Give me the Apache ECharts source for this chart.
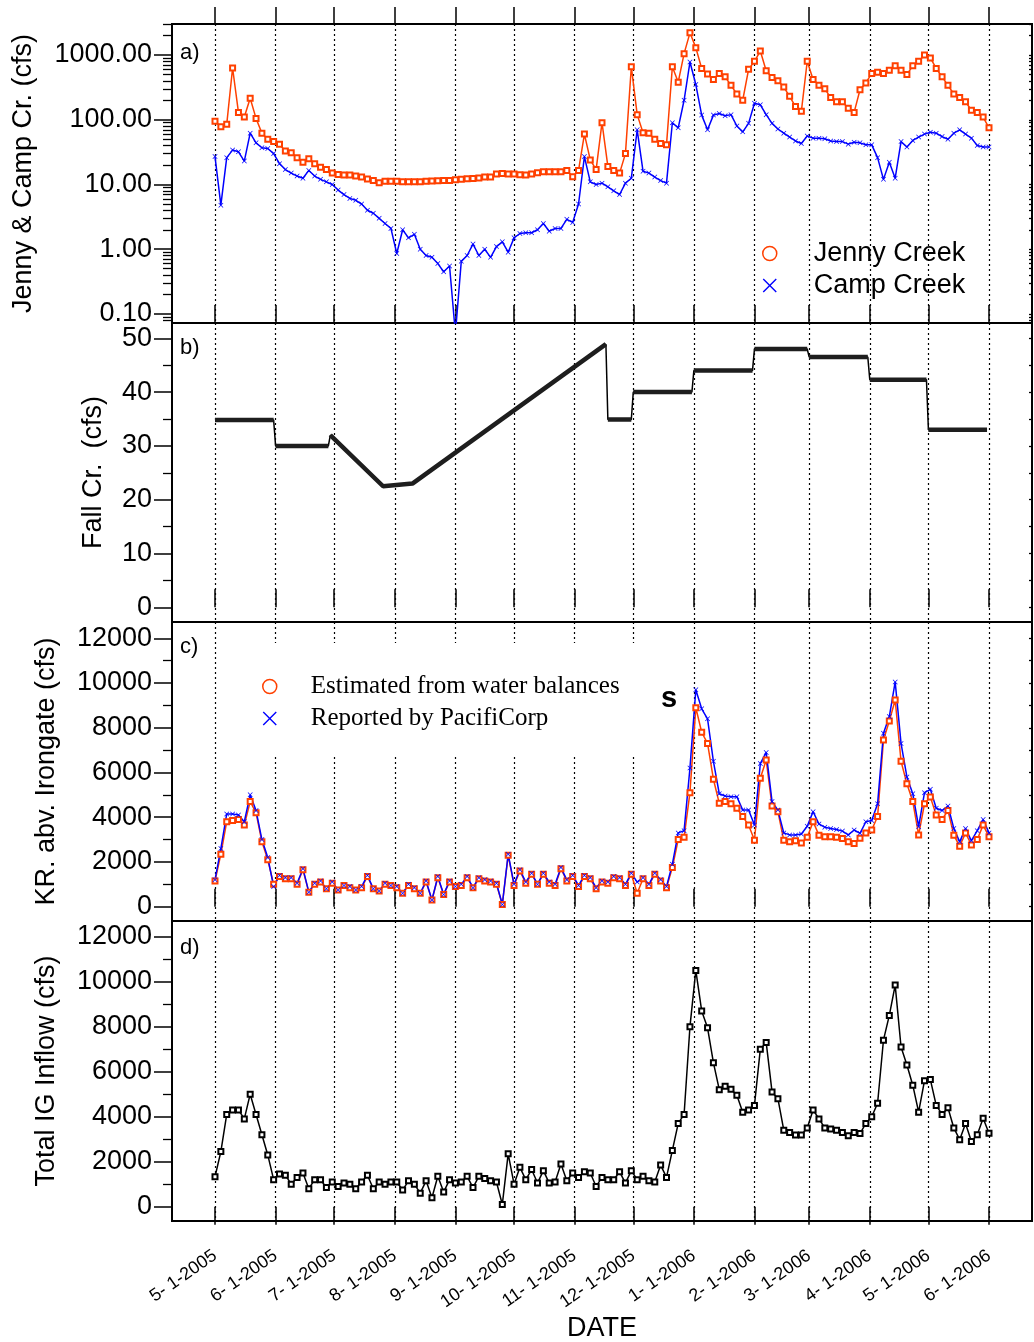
<!DOCTYPE html>
<html>
<head>
<meta charset="utf-8">
<script src="https://cdn.jsdelivr.net/npm/echarts/dist/echarts.min.js"></script>
<style>html,body{margin:0;padding:0;background:#fff}#chart{width:1034px;height:1342px}</style>
</head>
<body>
<div id="chart"></div>
<script>
// ---------------- data ----------------
const dates = [
'2005-05-01','2005-05-04','2005-05-07','2005-05-10','2005-05-13','2005-05-16','2005-05-19','2005-05-22','2005-05-25','2005-05-28',
'2005-05-31','2005-06-03','2005-06-06','2005-06-09','2005-06-12','2005-06-15','2005-06-18','2005-06-21','2005-06-24','2005-06-27',
'2005-06-30','2005-07-03','2005-07-06','2005-07-09','2005-07-12','2005-07-15','2005-07-18','2005-07-21','2005-07-24','2005-07-27',
'2005-07-30','2005-08-02','2005-08-05','2005-08-08','2005-08-11','2005-08-14','2005-08-17','2005-08-20','2005-08-23','2005-08-26',
'2005-08-29','2005-09-01','2005-09-04','2005-09-07','2005-09-10','2005-09-13','2005-09-16','2005-09-19','2005-09-22','2005-09-25',
'2005-09-28','2005-10-01','2005-10-04','2005-10-07','2005-10-10','2005-10-13','2005-10-16','2005-10-19','2005-10-22','2005-10-25',
'2005-10-28','2005-10-31','2005-11-03','2005-11-06','2005-11-09','2005-11-12','2005-11-15','2005-11-18','2005-11-21','2005-11-24',
'2005-11-27','2005-11-30','2005-12-03','2005-12-06','2005-12-09','2005-12-12','2005-12-15','2005-12-18','2005-12-21','2005-12-24',
'2005-12-27','2005-12-30','2006-01-02','2006-01-05','2006-01-08','2006-01-11','2006-01-14','2006-01-17','2006-01-20','2006-01-23',
'2006-01-26','2006-01-29','2006-02-01','2006-02-04','2006-02-07','2006-02-10','2006-02-13','2006-02-16','2006-02-19','2006-02-22',
'2006-02-25','2006-02-28','2006-03-03','2006-03-06','2006-03-09','2006-03-12','2006-03-15','2006-03-18','2006-03-21','2006-03-24',
'2006-03-27','2006-03-30','2006-04-02','2006-04-05','2006-04-08','2006-04-11','2006-04-14','2006-04-17','2006-04-20','2006-04-23',
'2006-04-26','2006-04-29','2006-05-02','2006-05-05','2006-05-08','2006-05-11','2006-05-14','2006-05-17','2006-05-20','2006-05-23',
'2006-05-26','2006-05-29','2006-06-01'];

const jennyCreek = [
95,78,85,630,130,110,215,105,62,50,
46,42,33,31,26,22,25,21,18.5,17,
15,14.3,14,14,13.5,13,12.2,11.5,10.6,11.2,
11.2,11.2,11.0,11.0,11.0,11.0,11.2,11.3,11.4,11.5,
11.5,11.8,12.0,12.3,12.4,12.6,13.0,13.0,14.5,14.8,
14.5,14.5,14.2,14.0,14.5,15.2,15.7,15.7,15.7,15.7,
16.5,13.2,16.5,60,24,17,90,19,16.5,15,
30,660,120,63,62,50,43,41,660,380,
1050,2200,1300,620,510,420,520,460,340,250,
200,600,800,1150,570,450,400,320,230,160,
135,800,420,340,300,220,190,190,150,130,
290,370,520,540,520,580,680,580,500,680,
800,1000,900,620,460,340,250,220,190,140,
130,110,75];

const campCreek = [
27,4.8,26,34,32,23,62,44,37,36,
30,21,17,15,13.5,12.5,16.5,13.5,12,11,
10,8.2,7,6.1,5.7,5.0,4.0,3.6,3.0,2.5,
2.1,0.86,2.0,1.5,1.7,1.0,0.8,0.75,0.6,0.45,
0.55,0.05,0.65,0.8,1.2,0.8,1.0,0.75,1.1,1.3,
0.9,1.5,1.75,1.8,1.8,2.0,2.5,1.9,2.1,2.1,
2.9,2.6,5.0,27,11,10,10.5,9.2,8,7,
10.5,12.5,70,16,15,13,11.5,10.5,90,75,
200,780,350,118,70,118,125,115,120,80,
65,88,180,170,120,88,72,62,54,47,
43,56,52,52,51,47,46,46,42,45,
44,41,41,26,12,22,12.5,46,38,48,
54,60,64,62,55,50,62,70,60,52,
40,38,38];

const fallDates = ['2005-05-01','2005-05-31','2005-06-01','2005-06-28','2005-06-29','2005-07-26','2005-08-10','2005-11-17',
'2005-11-18','2005-11-30','2005-12-01','2005-12-31','2006-01-01','2006-01-31','2006-02-01','2006-02-28',
'2006-03-01','2006-03-31','2006-04-01','2006-04-30','2006-05-01','2006-05-31'];
const fallCreek = [34.8,34.8,30.0,30.0,32.0,22.5,23.0,48.9,34.9,34.9,40.0,40.0,44.0,44.0,48.0,48.0,46.5,46.5,42.3,42.3,33.0,33.0];

const estimated = [
1150,2350,3800,3850,3900,3650,4700,4200,2900,2100,
1000,1350,1250,1250,1000,1650,650,1000,1100,800,
1050,750,950,850,750,850,1350,800,700,1000,
950,850,600,950,800,600,1100,300,1300,550,
1100,900,950,1300,850,1250,1150,1100,1000,100,
2300,950,1600,1050,1450,1000,1450,1050,950,1700,
1150,1350,900,1350,1250,800,1100,1050,1300,1250,
950,1450,600,1250,950,1450,1150,850,1750,3000,
3100,5100,8900,7800,7300,5700,4620,4700,4600,4400,
4030,3650,2970,5740,6560,4500,4250,2970,2900,2950,
2850,3100,3800,3200,3130,3130,3100,3050,2900,2830,
3060,3300,3430,4030,7450,8300,9240,6500,5500,4700,
3210,4600,4900,4100,3900,4300,3200,2700,3300,2760,
3000,3650,3130];

const reported = [
1200,2600,4150,4150,4100,3800,5000,4300,3000,2200,
900,1400,1300,1300,1050,1700,650,1050,1150,800,
1100,750,950,900,750,900,1400,800,700,1050,
950,900,600,1000,850,600,1150,300,1350,550,
1150,900,1000,1350,850,1300,1200,1150,1050,100,
2350,1000,1650,1100,1500,1000,1500,1100,1000,1750,
1200,1400,950,1400,1300,850,1150,1100,1350,1300,
1000,1500,1100,1300,1000,1500,1200,900,1900,3300,
3400,6200,9700,8850,8400,6500,5050,4950,4920,4920,
4320,4320,3650,6400,6900,4700,4320,3300,3210,3210,
3250,3600,4250,3700,3550,3500,3450,3380,3210,3430,
3280,3800,3850,4600,7750,8500,10050,7300,5800,5050,
3580,5100,5250,4400,4300,4500,3500,2900,3500,2950,
3400,3900,3300];

const totalInflow = [
1330,2450,4100,4300,4300,3900,5000,4100,3200,2300,
1200,1450,1400,1000,1300,1500,800,1200,1200,850,
1100,900,1050,1000,800,1100,1400,800,1100,1000,
1100,1100,740,1150,1000,600,1150,400,1350,650,
1200,1050,1100,1350,850,1350,1250,1150,1100,100,
2350,1000,1750,1200,1650,1050,1600,1050,1100,1900,
1150,1500,1300,1550,1500,900,1300,1200,1200,1550,
1050,1600,1200,1350,1150,1100,1850,1300,2500,3700,
4100,8000,10500,8700,7950,6400,5200,5350,5220,4950,
4200,4300,4500,7000,7300,5100,4800,3400,3300,3190,
3190,3500,4300,3900,3500,3450,3400,3300,3150,3300,
3250,3700,4000,4600,7400,8500,9850,7100,6300,5400,
4200,5600,5650,4500,4100,4400,3500,2980,3700,2900,
3200,3930,3260];

const monthTicks = ['2005-05-01','2005-06-01','2005-07-01','2005-08-01','2005-09-01','2005-10-01','2005-11-01',
'2005-12-01','2006-01-01','2006-02-01','2006-03-01','2006-04-01','2006-05-01','2006-06-01'];
const logMajor = [0.1, 1, 10, 100, 1000];
const logMinor = [0.08,0.09,0.2,0.3,0.4,0.5,0.6,0.7,0.8,0.9,2,3,4,5,6,7,8,9,20,30,40,50,60,70,80,90,
200,300,400,500,600,700,800,900,2000,3000];
const fallMajor = [0,10,20,30,40,50];
const fallMinor = [5,15,25,35,45];
const flowMajor = [0,2000,4000,6000,8000,10000,12000];
const flowMinor = [1000,3000,5000,7000,9000,11000];

// ---------------- helpers ----------------
function toTime(s){ const p = s.split('-').map(Number); return new Date(p[0], p[1]-1, p[2]).getTime(); }
const SANS = "'Liberation Sans', Arial, sans-serif";
const SERIF = "'Liberation Serif', 'Times New Roman', serif";
const ORANGE = '#ff4000';
const BLUE = '#0000ff';
const X_MIN = toTime('2005-04-09');
const X_MAX = toTime('2006-06-23');
const monthT = monthTicks.map(toTime);
const xSym = 'path://M0,1L1,0L5,4L9,0L10,1L6,5L10,9L9,10L5,6L1,10L0,9L4,5Z';
const xIcon = 'path://M0,1.4L1.4,0L10,8.6L18.6,0L20,1.4L11.4,10L20,18.6L18.6,20L10,11.4L1.4,20L0,18.6L8.6,10Z';

function series2(vals){ return dates.map((d,i)=>[toTime(d), vals[i]]); }
const fallLine = fallDates.map((d,i)=>[toTime(d), fallCreek[i]]);
const fallThick = [];
for (let i=0;i<fallLine.length;i++){
  if (i>0 && fallLine[i][0]-fallLine[i-1][0] < 1.5*86400000) fallThick.push([(fallLine[i][0]+fallLine[i-1][0])/2, null]);
  fallThick.push(fallLine[i]);
}

const grids = [
  {left:172, right:2, top:24, height:299},
  {left:172, right:2, top:323, height:299},
  {left:172, right:2, top:622, height:299},
  {left:172, right:2, top:921, height:300}
].map(g=>Object.assign(g,{show:true, borderColor:'#000', borderWidth:2, backgroundColor:'transparent', containLabel:false, outerBoundsMode:'none'}));

function xAxisFor(gi, opts){
  return Object.assign({
    type:'value', gridIndex:gi, min:X_MIN, max:X_MAX, position:'bottom',
    axisLine:{show:false},
    axisTick:{show:true, inside:true, length:18, customValues:monthT, lineStyle:{color:'#000', width:1.5}},
    axisLabel:{show:false},
    splitLine:{show:true, lineStyle:{color:'#000', width:1.2, type:[2,3]}},
    axisPointer:{show:false}
  }, opts);
}
const xAxes = [
  xAxisFor(0,{}),
  xAxisFor(0,{position:'top', axisTick:{show:true, inside:false, length:17, customValues:monthT, lineStyle:{color:'#000', width:1.5}}, splitLine:{show:false}}),
  xAxisFor(1,{}),
  xAxisFor(2,{}),
  xAxisFor(3,{
    axisTick:{show:true, inside:false, length:18, customValues:monthT, lineStyle:{color:'#000', width:1.5}},
    axisLabel:{show:true, customValues:monthT, rotate:35, margin:33, fontFamily:SANS, fontSize:18, color:'#000',
      formatter:function(v){ const d=new Date(v); return (d.getMonth()+1)+'- '+d.getDate()+'-'+d.getFullYear(); }},
    name:'DATE', nameLocation:'middle', nameGap:94, nameMoveOverlap:false,
    nameTextStyle:{fontFamily:SANS, fontSize:27, color:'#000'}
  })
];

function yMain(gi, type, min, max, name, gap, ticks, fmt){
  const o = {
    type, gridIndex:gi, min, max, position:'left',
    name, nameLocation:'middle', nameGap:gap, nameRotate:90, nameMoveOverlap:false,
    nameTextStyle:{fontFamily:SANS, fontSize:27, color:'#000'},
    axisLine:{show:false},
    axisTick:{show:true, inside:false, length:18, customValues:ticks, lineStyle:{color:'#000', width:1.5}},
    axisLabel:{show:true, customValues:ticks, margin:20, fontFamily:SANS, fontSize:27, color:'#000', formatter:fmt},
    splitLine:{show:false}, axisPointer:{show:false}
  };
  if (type==='log') o.logBase = 10;
  return o;
}
function yTicks(gi, type, min, max, ticks, pos, len, inside){
  const o = {
    type, gridIndex:gi, min, max, position:pos,
    axisLine:{show:false},
    axisTick:{show:true, inside:inside, length:len, customValues:ticks, lineStyle:{color:'#000', width:1.3}},
    axisLabel:{show:false}, splitLine:{show:false}, axisPointer:{show:false}
  };
  if (type==='log') o.logBase = 10;
  return o;
}
const A_MIN = 0.0726, A_MAX = 3012;
const B_MIN = -2.73, B_MAX = 52.84;
const C_MIN = -639, C_MAX = 12729;
const D_MIN = -636, D_MAX = 12698;
const intFmt = v => String(Math.round(v));
const yAxes = [
  yMain(0,'log',A_MIN,A_MAX,'Jenny & Camp Cr. (cfs)',135,logMajor, v => Number(v).toFixed(2)),
  yTicks(0,'log',A_MIN,A_MAX,logMinor,'left',9,false),
  yTicks(0,'log',A_MIN,A_MAX,logMajor.concat(logMinor),'right',3,true),
  yMain(1,'value',B_MIN,B_MAX,'Fall Cr.  (cfs)',65,fallMajor,intFmt),
  yTicks(1,'value',B_MIN,B_MAX,fallMinor,'left',9,false),
  yTicks(1,'value',B_MIN,B_MAX,fallMajor.concat(fallMinor),'right',3,true),
  yMain(2,'value',C_MIN,C_MAX,'KR. abv. Irongate (cfs)',112,flowMajor,intFmt),
  yTicks(2,'value',C_MIN,C_MAX,flowMinor,'left',9,false),
  yTicks(2,'value',C_MIN,C_MAX,flowMajor.concat(flowMinor),'right',3,true),
  yMain(3,'value',D_MIN,D_MAX,'Total IG Inflow (cfs)',112,flowMajor,intFmt),
  yTicks(3,'value',D_MIN,D_MAX,flowMinor,'left',9,false)
];

const series = [
  {name:'Jenny Creek', type:'line', xAxisIndex:0, yAxisIndex:0, data:series2(jennyCreek),
   symbol:'emptyRect', symbolSize:5, showAllSymbol:true,
   lineStyle:{color:ORANGE, width:1.5}, itemStyle:{color:ORANGE, borderColor:ORANGE, borderWidth:1}},
  {name:'Camp Creek', type:'line', xAxisIndex:0, yAxisIndex:0, data:series2(campCreek),
   symbol:xSym, symbolSize:5, showAllSymbol:true,
   lineStyle:{color:BLUE, width:1.5}, itemStyle:{color:BLUE}},
  {name:'Fall Cr.', type:'line', xAxisIndex:2, yAxisIndex:3, data:fallLine, symbol:'none',
   lineStyle:{color:'#000', width:1.5}},
  {name:'Fall Cr. (daily)', type:'line', xAxisIndex:2, yAxisIndex:3, data:fallThick, symbol:'none', connectNulls:false,
   lineStyle:{color:'#1e1e1e', width:4.5}},
  {name:'Estimated from water balances', type:'line', xAxisIndex:3, yAxisIndex:6, data:series2(estimated),
   symbol:'emptyRect', symbolSize:5, showAllSymbol:true,
   lineStyle:{color:ORANGE, width:1.5}, itemStyle:{color:ORANGE, borderColor:ORANGE, borderWidth:1}},
  {name:'Reported by PacifiCorp', type:'line', xAxisIndex:3, yAxisIndex:6, data:series2(reported),
   symbol:xSym, symbolSize:5, showAllSymbol:true,
   lineStyle:{color:BLUE, width:1.5}, itemStyle:{color:BLUE}},
  {name:'Total IG Inflow', type:'line', xAxisIndex:4, yAxisIndex:9, data:series2(totalInflow),
   symbol:'emptyRect', symbolSize:5, showAllSymbol:true,
   lineStyle:{color:'#000', width:1.5}, itemStyle:{color:'#000', borderColor:'#000', borderWidth:1}}
];

const legends = [
  {left:762, top:240, orient:'vertical', padding:0, itemGap:5, itemWidth:14, itemHeight:14, selectedMode:false,
   textStyle:{fontFamily:SANS, fontSize:27, color:'#000', padding:[0,0,0,32]},
   data:[
     {name:'Jenny Creek', icon:'circle', itemStyle:{color:'#fff', borderColor:ORANGE, borderWidth:1.5}},
     {name:'Camp Creek', icon:xIcon, itemStyle:{color:BLUE, borderWidth:0}}
   ]},
  {left:220, top:643, orient:'vertical', padding:[31,42,25,42], itemGap:7, itemWidth:14, itemHeight:14, selectedMode:false,
   backgroundColor:'#fff',
   textStyle:{fontFamily:SERIF, fontSize:25, color:'#000', padding:[0,0,0,29]},
   data:[
     {name:'Estimated from water balances', icon:'circle', itemStyle:{color:'#fff', borderColor:ORANGE, borderWidth:1.5}},
     {name:'Reported by PacifiCorp', icon:xIcon, itemStyle:{color:BLUE, borderWidth:0}}
   ]}
];

const panelText = (t, y) => ({type:'text', left:180, top:y, style:{text:t, fontFamily:SANS, fontSize:22, fill:'#000'}});
const graphic = [
  panelText('a)', 42), panelText('b)', 337), panelText('c)', 636), panelText('d)', 937),
  {type:'text', left:661, top:684, style:{text:'s', fontFamily:SANS, fontSize:29, fontWeight:'bold', fill:'#000'}}
];

const chart = echarts.init(document.getElementById('chart'), null, {renderer:'canvas'});
chart.setOption({
  animation:false,
  backgroundColor:'#fff',
  grid:grids, xAxis:xAxes, yAxis:yAxes, series, legend:legends, graphic
});
</script>
</body>
</html>
